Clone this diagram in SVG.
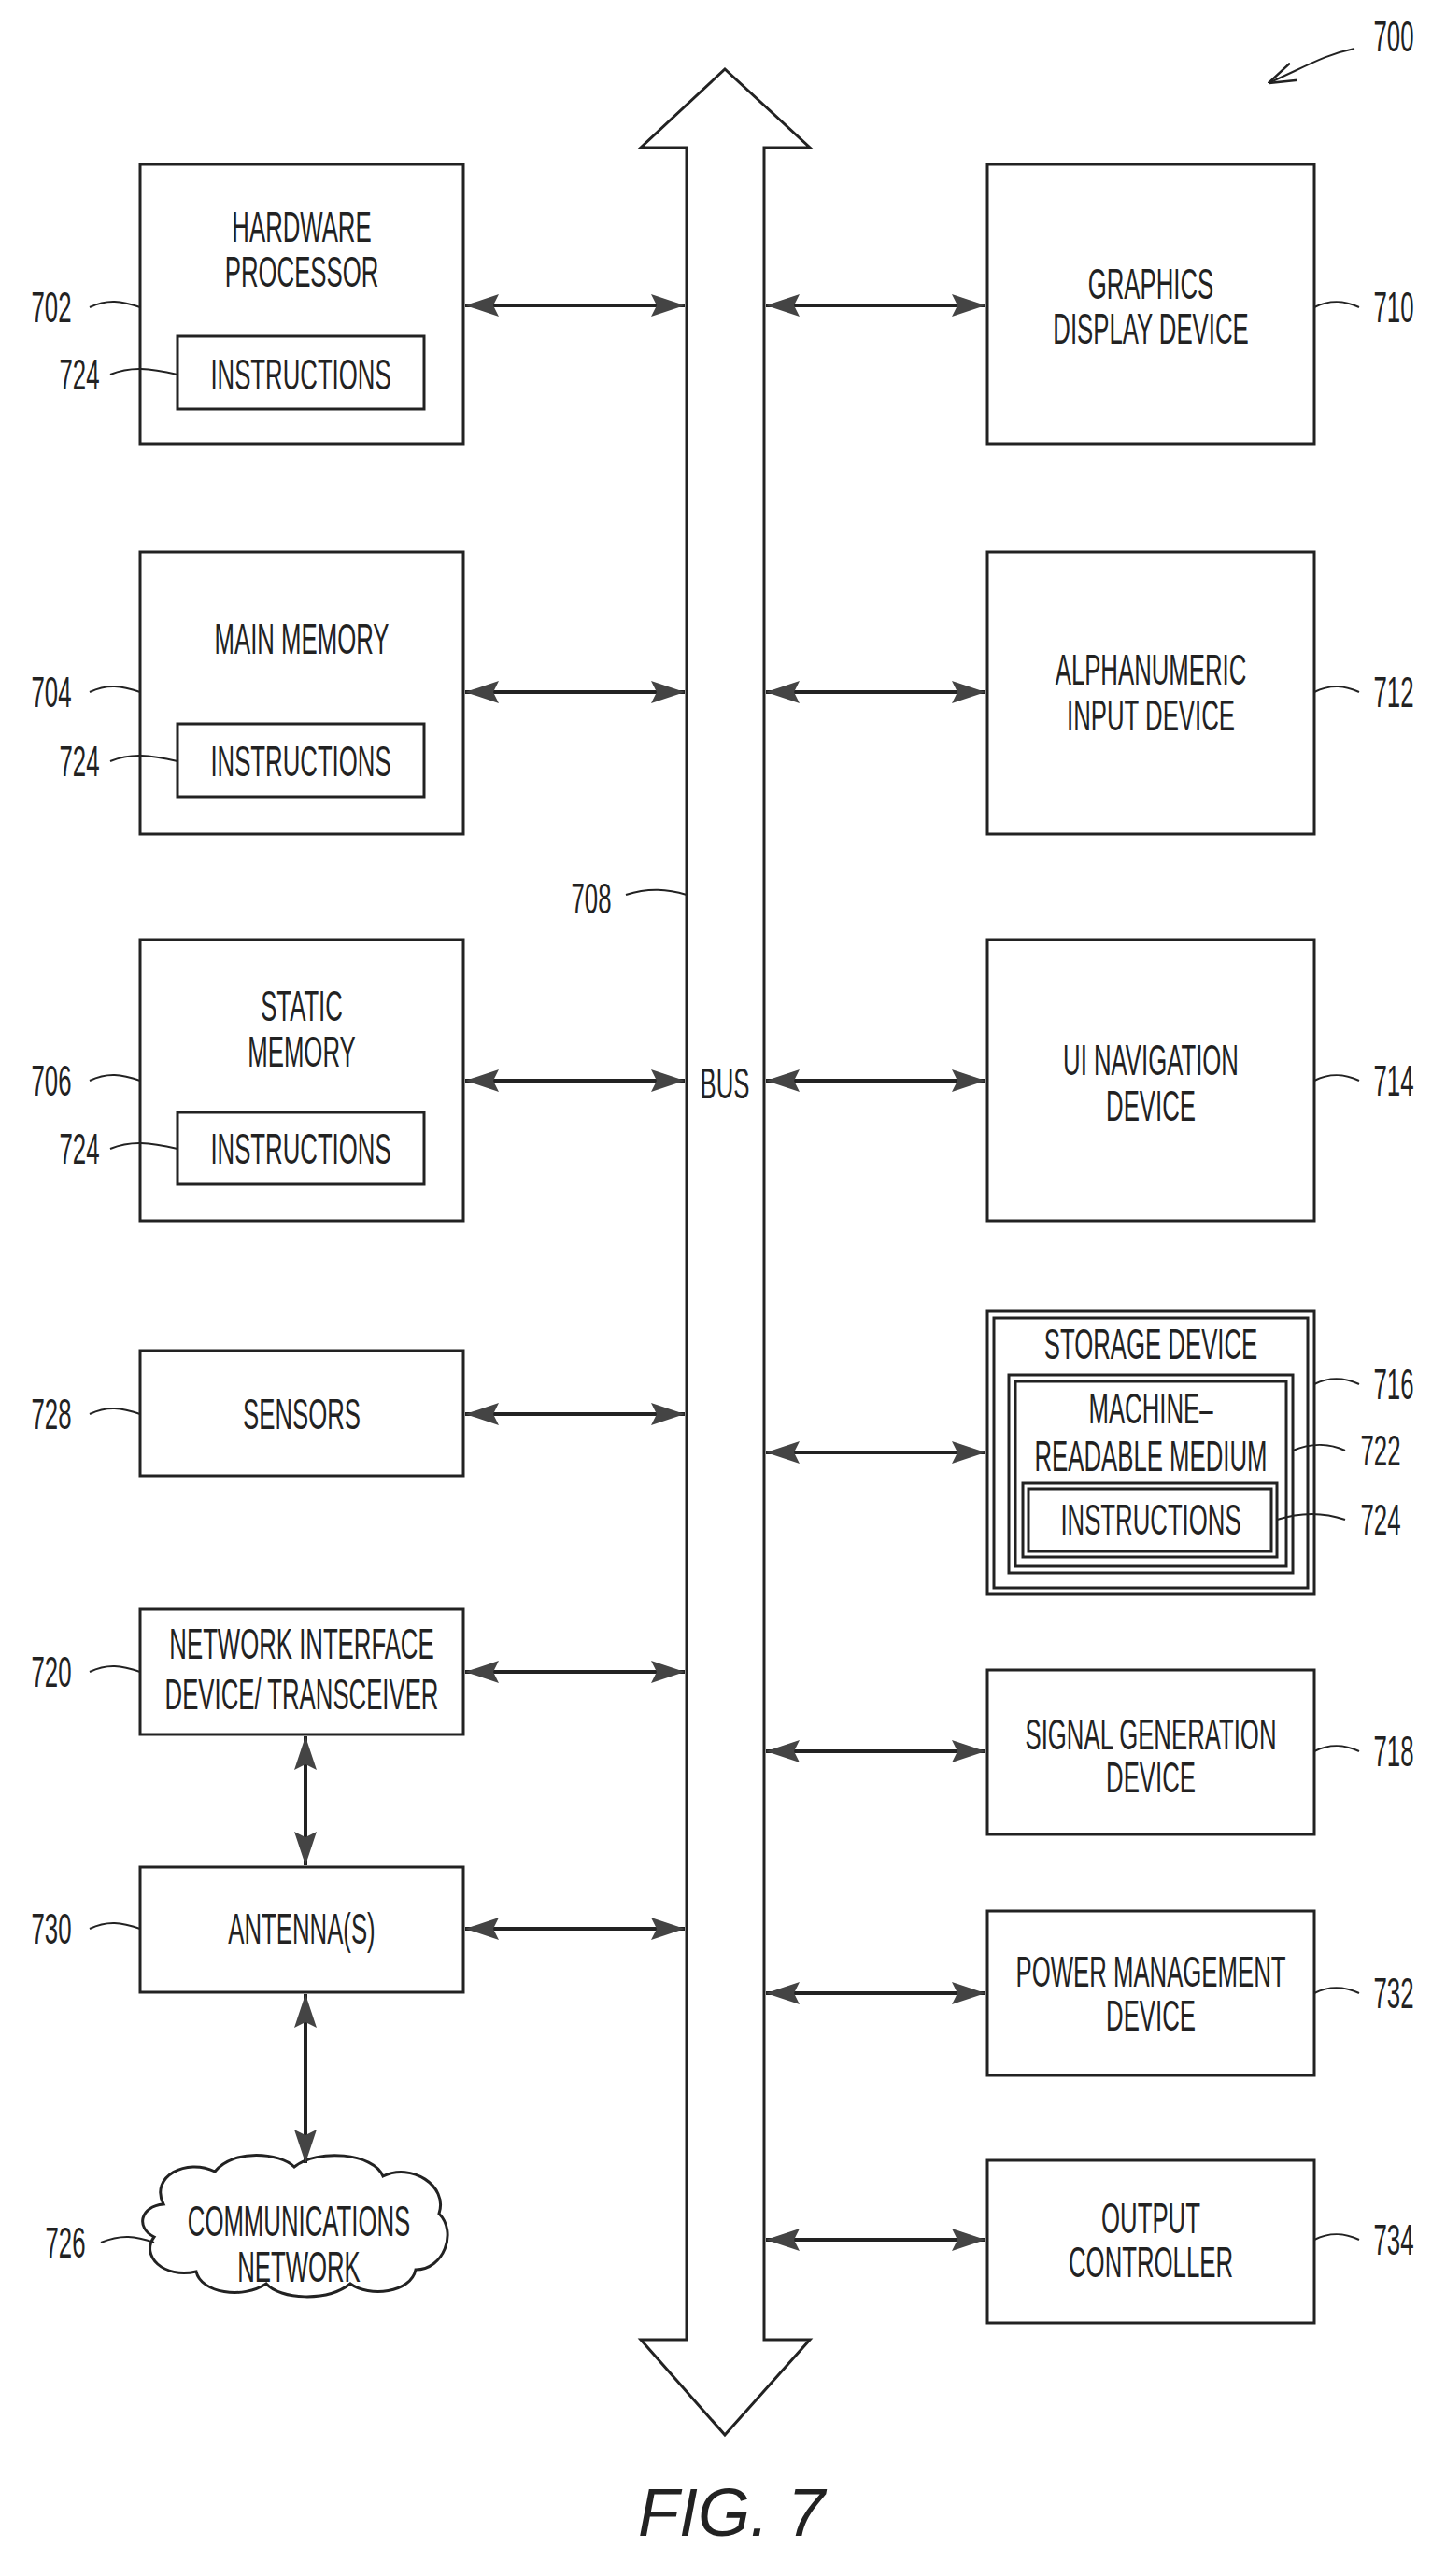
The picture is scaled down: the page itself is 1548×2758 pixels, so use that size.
<svg xmlns="http://www.w3.org/2000/svg" width="1548" height="2758" viewBox="0 0 1548 2758">
<style>
.b{fill:none;stroke:#222;stroke-width:3}
.c{fill:none;stroke:#222;stroke-width:4;marker-start:url(#ah);marker-end:url(#ah)}
.l{fill:none;stroke:#222;stroke-width:2}
text{font-family:"Liberation Sans",Arial,sans-serif;font-size:46px;fill:#222;text-anchor:middle}
.r{font-size:44px}
</style>
<defs>
<marker id="ah" viewBox="0 0 12 8" refX="12" refY="4" markerWidth="36" markerHeight="24" markerUnits="userSpaceOnUse" orient="auto-start-reverse"><path d="M0,0L12,4L0,8L2,4Z" fill="#444"/></marker>
<marker id="op" viewBox="0 0 12 12" refX="11" refY="6" markerWidth="30" markerHeight="30" markerUnits="userSpaceOnUse" orient="auto"><path d="M0,2L12,6L0,10" fill="none" stroke="#222" stroke-width="1"/></marker>
</defs>
<rect width="1548" height="2758" fill="#fff"/>
<g id="bus">
<path class="b" d="M735,2505V158H686L776,74L867,158H818V2505H867L776,2607L686,2505Z"/>
<text transform="translate(776,1176) scale(0.56,1)">BUS</text>
</g>
<g id="n702"><rect class="b" x="150" y="176" width="346" height="299"/>
<text transform="translate(323,259) scale(0.56,1)">HARDWARE</text><text transform="translate(323,307) scale(0.56,1)">PROCESSOR</text>
<rect class="b" x="190" y="360" width="264" height="78"/><text transform="translate(322,417) scale(0.56,1)">INSTRUCTIONS</text></g>
<g id="n704"><rect class="b" x="150" y="591" width="346" height="302"/>
<text transform="translate(323,700) scale(0.56,1)">MAIN  MEMORY</text>
<rect class="b" x="190" y="775" width="264" height="78"/><text transform="translate(322,831) scale(0.56,1)">INSTRUCTIONS</text></g>
<g id="n706"><rect class="b" x="150" y="1006" width="346" height="301"/>
<text transform="translate(323,1093) scale(0.56,1)">STATIC</text><text transform="translate(323,1142) scale(0.56,1)">MEMORY</text>
<rect class="b" x="190" y="1191" width="264" height="77"/><text transform="translate(322,1246) scale(0.56,1)">INSTRUCTIONS</text></g>
<g id="n728"><rect class="b" x="150" y="1446" width="346" height="134"/><text transform="translate(323,1530) scale(0.56,1)">SENSORS</text></g>
<g id="n720"><rect class="b" x="150" y="1723" width="346" height="134"/>
<text transform="translate(323,1776) scale(0.56,1)">NETWORK  INTERFACE</text><text transform="translate(323,1830) scale(0.56,1)">DEVICE/  TRANSCEIVER</text></g>
<g id="n730"><rect class="b" x="150" y="1999" width="346" height="134"/><text transform="translate(323,2081) scale(0.56,1)">ANTENNA(S)</text></g>
<g id="n726"><path class="b" d="M175,2360C160,2330 200,2310 230,2325C250,2300 300,2305 315,2320C340,2300 400,2305 410,2330C440,2315 480,2340 470,2370C490,2390 475,2430 445,2430C440,2455 395,2460 375,2445C350,2465 300,2462 285,2445C260,2462 215,2455 210,2432C175,2440 150,2415 165,2395C145,2385 150,2362 175,2360Z"/>
<text transform="translate(320,2394) scale(0.56,1)">COMMUNICATIONS</text><text transform="translate(320,2443) scale(0.56,1)">NETWORK</text></g>
<g id="n710"><rect class="b" x="1057" y="176" width="350" height="299"/>
<text transform="translate(1232,320) scale(0.56,1)">GRAPHICS</text><text transform="translate(1232,368) scale(0.56,1)">DISPLAY  DEVICE</text></g>
<g id="n712"><rect class="b" x="1057" y="591" width="350" height="302"/>
<text transform="translate(1232,733) scale(0.56,1)">ALPHANUMERIC</text><text transform="translate(1232,782) scale(0.56,1)">INPUT  DEVICE</text></g>
<g id="n714"><rect class="b" x="1057" y="1006" width="350" height="301"/>
<text transform="translate(1232,1151) scale(0.56,1)">UI  NAVIGATION</text><text transform="translate(1232,1200) scale(0.56,1)">DEVICE</text></g>
<g id="n716"><rect class="b" x="1057" y="1404" width="350" height="303"/><rect class="b" x="1064" y="1411" width="336" height="289"/>
<text transform="translate(1232,1455) scale(0.56,1)">STORAGE  DEVICE</text>
<rect class="b" x="1080" y="1472" width="304" height="212"/><rect class="b" x="1087" y="1479" width="290" height="198"/>
<text transform="translate(1232,1524) scale(0.56,1)">MACHINE–</text><text transform="translate(1232,1575) scale(0.56,1)">READABLE  MEDIUM</text>
<rect class="b" x="1095" y="1588" width="272" height="79"/><rect class="b" x="1101" y="1594" width="260" height="67"/>
<text transform="translate(1232,1643) scale(0.56,1)">INSTRUCTIONS</text></g>
<g id="n718"><rect class="b" x="1057" y="1788" width="350" height="176"/>
<text transform="translate(1232,1873) scale(0.56,1)">SIGNAL  GENERATION</text><text transform="translate(1232,1919) scale(0.56,1)">DEVICE</text></g>
<g id="n732"><rect class="b" x="1057" y="2046" width="350" height="176"/>
<text transform="translate(1232,2127) scale(0.56,1)">POWER  MANAGEMENT</text><text transform="translate(1232,2174) scale(0.56,1)">DEVICE</text></g>
<g id="n734"><rect class="b" x="1057" y="2313" width="350" height="174"/>
<text transform="translate(1232,2391) scale(0.56,1)">OUTPUT</text><text transform="translate(1232,2438) scale(0.56,1)">CONTROLLER</text></g>
<g id="connectors">
<line class="c" x1="498" y1="327" x2="733" y2="327"/>
<line class="c" x1="498" y1="741" x2="733" y2="741"/>
<line class="c" x1="498" y1="1157" x2="733" y2="1157"/>
<line class="c" x1="498" y1="1514" x2="733" y2="1514"/>
<line class="c" x1="498" y1="1790" x2="733" y2="1790"/>
<line class="c" x1="498" y1="2065" x2="733" y2="2065"/>
<line class="c" x1="820" y1="327" x2="1055" y2="327"/>
<line class="c" x1="820" y1="741" x2="1055" y2="741"/>
<line class="c" x1="820" y1="1157" x2="1055" y2="1157"/>
<line class="c" x1="820" y1="1555" x2="1055" y2="1555"/>
<line class="c" x1="820" y1="1875" x2="1055" y2="1875"/>
<line class="c" x1="820" y1="2134" x2="1055" y2="2134"/>
<line class="c" x1="820" y1="2398" x2="1055" y2="2398"/>
<line class="c" x1="327" y1="1859" x2="327" y2="1997"/>
<line class="c" x1="327" y1="2135" x2="327" y2="2316"/>
</g>
<g id="labels">
<g class="l"><path d="M96,329C115,320 130,322 150,329M118,401C140,392 160,394 190,401M96,741C115,732 130,734 150,741M118,815C140,806 160,808 190,815M96,1157C115,1148 130,1150 150,1157M118,1230C140,1221 160,1223 190,1230M96,1514C115,1505 130,1507 150,1514M96,1790C115,1781 130,1783 150,1790M96,2065C115,2056 130,2058 150,2065M108,2401C130,2392 145,2394 165,2401"/>
<path d="M1407,329C1425,320 1440,322 1455,329M1407,741C1425,732 1440,734 1455,741M1407,1157C1425,1148 1440,1150 1455,1157M1407,1482C1425,1473 1440,1475 1455,1482M1384,1553C1405,1544 1425,1546 1440,1553M1367,1627C1395,1618 1420,1620 1440,1627M1407,1875C1425,1866 1440,1868 1455,1875M1407,2134C1425,2125 1440,2127 1455,2134M1407,2398C1425,2389 1440,2391 1455,2398M670,958C695,950 715,952 735,958"/></g>
<g class="r">
<text transform="translate(55,345) scale(0.56,1)">702</text><text transform="translate(85,417) scale(0.56,1)">724</text>
<text transform="translate(55,757) scale(0.56,1)">704</text><text transform="translate(85,831) scale(0.56,1)">724</text>
<text transform="translate(55,1173) scale(0.56,1)">706</text><text transform="translate(85,1246) scale(0.56,1)">724</text>
<text transform="translate(55,1530) scale(0.56,1)">728</text><text transform="translate(55,1806) scale(0.56,1)">720</text>
<text transform="translate(55,2081) scale(0.56,1)">730</text><text transform="translate(70,2417) scale(0.56,1)">726</text>
<text transform="translate(1492,345) scale(0.56,1)">710</text><text transform="translate(1492,757) scale(0.56,1)">712</text>
<text transform="translate(1492,1173) scale(0.56,1)">714</text><text transform="translate(1492,1498) scale(0.56,1)">716</text>
<text transform="translate(1478,1569) scale(0.56,1)">722</text><text transform="translate(1478,1643) scale(0.56,1)">724</text>
<text transform="translate(1492,1891) scale(0.56,1)">718</text><text transform="translate(1492,2150) scale(0.56,1)">732</text>
<text transform="translate(1492,2414) scale(0.56,1)">734</text>
<text transform="translate(633,978) scale(0.56,1)">708</text>
<text transform="translate(1492,55) scale(0.56,1)">700</text></g>
<path d="M1450,52C1420,58 1400,70 1360,88" fill="none" stroke="#222" stroke-width="2" marker-end="url(#op)"/>
</g>
<text x="783" y="2715" style="font-size:72px;font-style:italic">FIG.  7</text>
</svg>
